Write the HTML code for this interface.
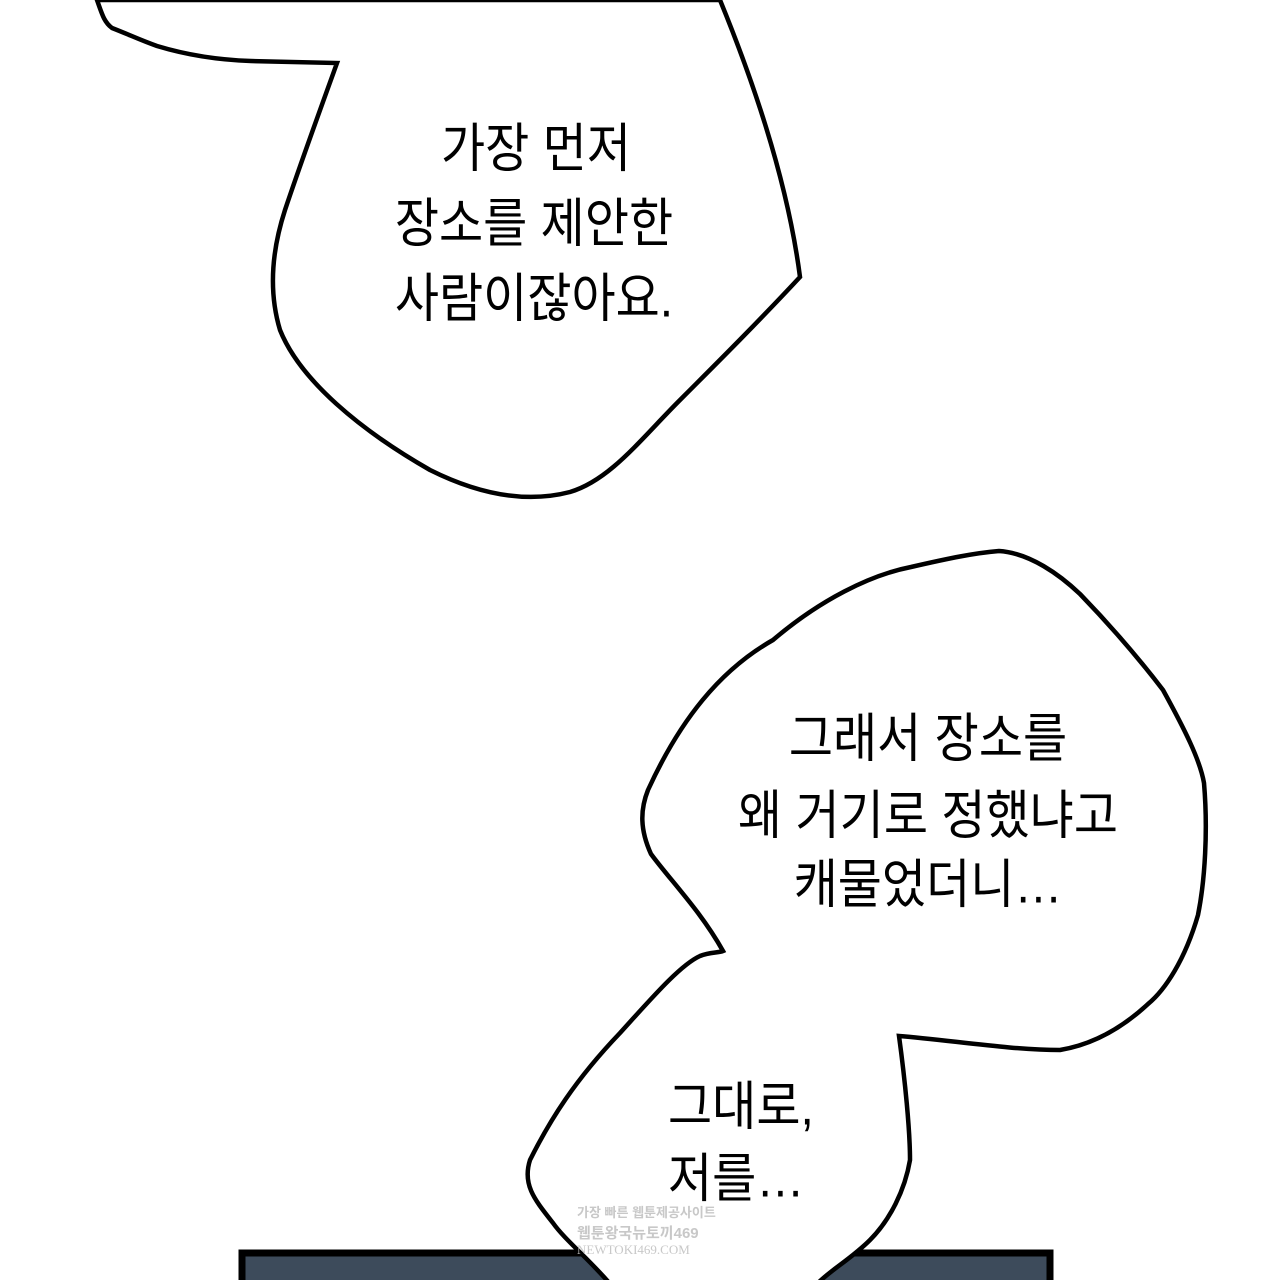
<!DOCTYPE html>
<html><head><meta charset="utf-8"><style>
html,body{margin:0;padding:0;background:#fff;}
body{width:1280px;height:1280px;position:relative;overflow:hidden;font-family:"Liberation Sans","Noto Sans CJK KR","NanumGothic",sans-serif;}
svg{position:absolute;left:0;top:0;}
.t{position:absolute;font-size:48px;color:#000;text-align:center;white-space:nowrap;line-height:1;}
.w{position:absolute;color:#c8c8c8;font-size:13px;white-space:nowrap;font-weight:bold;}
</style></head><body>
<svg width="1280" height="1280" viewBox="0 0 1280 1280">
<rect x="242" y="1253" width="808" height="40" fill="#3d4b5b" stroke="#000" stroke-width="7"/>
<path d="M97,0 C102,14 104,22 112,28 C130,35 140,40 157,46 C190,56 220,60 251,61 L337,63 C320,110 300,165 285,210 C272,250 268,290 280,330 C300,380 360,430 430,470 C470,490 520,505 570,492 C610,480 640,440 680,400 C720,360 760,320 800,277 C790,200 765,110 720,0 Z" fill="#fff" stroke="#000" stroke-width="4.5"/>
<path d="M611,1285 C590,1260 565,1240 553,1223 C535,1200 522,1185 530,1160 C550,1120 575,1080 620,1033 C650,1000 680,965 700,956 C710,952 718,953 723,951 C700,910 670,880 651,854 C640,830 640,810 648,790 C680,720 720,670 773,640 C820,600 870,575 911,567 C950,558 975,553 999,551 C1030,553 1060,575 1080,594 C1110,625 1140,660 1163,690 C1185,730 1200,760 1204,783 C1208,830 1205,880 1198,915 C1185,960 1165,990 1148,1004 C1120,1030 1090,1045 1060,1050 C1010,1050 950,1040 899,1036 C905,1080 910,1130 910,1160 C905,1190 890,1220 870,1240 C850,1260 830,1270 816,1285 Z" fill="#fff" stroke="#000" stroke-width="4.5"/>
</svg>
<div class="t" style="left:536px;top:126px;transform:translateX(-50%) scaleY(1.1)">가장 먼저</div>
<div class="t" style="left:534px;top:201px;transform:translateX(-50%) scaleY(1.1)">장소를 제안한</div>
<div class="t" style="left:534px;top:276px;transform:translateX(-50%) scaleY(1.1)">사람이잖아요.</div>
<div class="t" style="left:928px;top:716px;transform:translateX(-50%) scaleY(1.1)">그래서 장소를</div>
<div class="t" style="left:928px;top:793px;transform:translateX(-50%) scaleY(1.1)">왜 거기로 정했냐고</div>
<div class="t" style="left:928px;top:862px;transform:translateX(-50%) scaleY(1.1)">캐물었더니…</div>
<div class="t" style="left:668px;top:1084px;transform:scaleY(1.1)">그대로,</div>
<div class="t" style="left:668px;top:1156px;transform:scaleY(1.1)">저를…</div>
<div class="w" style="left:577px;top:1202px;">가장 빠른 웹툰제공사이트</div>
<div class="w" style="left:577px;top:1222px;font-size:15px;">웹툰왕국뉴토끼469</div>
<div class="w" style="left:577px;top:1242px;font-size:13px;font-family:'Liberation Serif',serif;font-weight:normal;">NEWTOKI469.COM</div>
</body></html>
